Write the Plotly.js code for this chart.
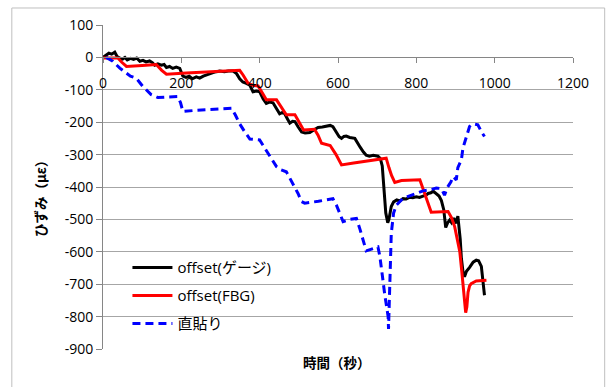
<!DOCTYPE html>
<html>
<head>
<meta charset="utf-8">
<script src="https://cdn.plot.ly/plotly-3.0.1.min.js"></script>
<style>
  html, body { margin: 0; padding: 0; background: #fff; }
  #chart { width: 607px; height: 387px; }
</style>
</head>
<body>
<div id="chart"></div>
<script>
// Strain (με) against time (s) for three measurements.
const gaugeTime = [0, 8, 15, 22, 30, 36, 42, 50, 56, 62, 70, 78, 86, 94, 102, 110, 119, 126, 132, 140, 149, 156, 162, 170, 178, 187, 196, 204, 212, 220, 228, 238, 247, 256, 264, 272, 281, 290, 298, 310, 320, 332, 341, 349, 357, 366, 375, 383, 392, 400, 409, 417, 425, 434, 443, 451, 458, 464, 471, 477, 484, 490, 498, 507, 516, 528, 538, 549, 560, 570, 580, 587, 596, 603, 609, 615, 621, 630, 643, 650, 657, 665, 672, 680, 690, 702, 708, 713, 718, 722, 727, 730, 736, 742, 750, 758, 766, 774, 782, 791, 800, 808, 817, 824, 830, 837, 843, 851, 858, 864, 870, 875, 880, 885, 890, 896, 902, 906, 909, 912, 915, 919, 923, 928, 936, 945, 953, 959, 966, 970, 974];
const gaugeStrain = [0, 8, 13, 10, 16, 3, -2, -5, 0, -8, -3, -6, -2, -12, -9, -14, -11, -16, -24, -20, -24, -22, -31, -28, -34, -30, -34, -58, -62, -58, -66, -60, -64, -58, -54, -50, -47, -44, -42, -44, -42, -42, -50, -66, -76, -80, -86, -106, -104, -106, -128, -142, -138, -140, -160, -174, -170, -174, -190, -203, -197, -198, -214, -230, -233, -232, -224, -216, -215, -213, -210, -214, -232, -245, -250, -244, -243, -247, -250, -262, -278, -292, -302, -305, -302, -305, -312, -335, -420, -480, -510, -500, -460, -446, -440, -443, -436, -437, -432, -433, -430, -432, -428, -426, -420, -418, -413, -422, -428, -442, -470, -525, -510, -502, -510, -496, -512, -490, -520, -560, -620, -660, -677, -660, -648, -632, -626, -628, -645, -690, -734];

const fbgTime = [0, 38, 48, 60, 100, 136, 150, 162, 213, 281, 349, 358, 370, 383, 396, 407, 417, 443, 455, 468, 490, 500, 512, 540, 549, 558, 580, 595, 609, 640, 664, 700, 723, 730, 737, 745, 762, 809, 822, 838, 881, 890, 898, 905, 911, 916, 920, 923, 926, 929, 932, 936, 940, 953, 979];
const fbgStrain = [-2, -2, -15, -28, -25, -22, -40, -52, -48, -43, -40, -55, -79, -86, -88, -110, -131, -131, -155, -177, -177, -200, -224, -222, -240, -265, -272, -300, -332, -326, -322, -316, -311, -340, -365, -386, -380, -378, -420, -478, -476, -495, -523, -560, -600, -660, -720, -770, -788, -770, -725, -705, -698, -690, -688];

const directTime = [8, 25, 43, 60, 70, 85, 102, 123, 140, 165, 191, 198, 204, 240, 290, 328, 338, 349, 362, 375, 400, 409, 417, 430, 443, 455, 468, 478, 489, 498, 507, 515, 550, 587, 596, 605, 613, 630, 647, 656, 664, 672, 690, 702, 707, 711, 715, 719, 724, 728, 729, 731, 733, 736, 742, 749, 766, 783, 800, 817, 834, 851, 864, 872, 880, 888, 894, 902, 906, 915, 919, 928, 936, 945, 957, 966, 974];
const directStrain = [0, -12, -33, -48, -58, -64, -90, -115, -124, -122, -121, -140, -167, -163, -160, -157, -178, -205, -230, -252, -255, -272, -291, -315, -337, -347, -353, -375, -399, -420, -445, -450, -444, -436, -456, -485, -507, -500, -497, -530, -564, -597, -590, -585, -615, -646, -690, -729, -770, -800, -838, -760, -680, -543, -480, -456, -435, -428, -420, -412, -409, -403, -405, -425, -400, -385, -368, -378, -340, -316, -280, -244, -213, -205, -208, -229, -244];

const seriesNames = ['offset(ゲージ)', 'offset(FBG)', '直貼り'];

const xTickVals = [0, 200, 400, 600, 800, 1000, 1200];
const yTickVals = [100, 0, -100, -200, -300, -400, -500, -600, -700, -800, -900];
const yTickText = ['100', '0', '-100', '-200', '-300', '-400', '-500', '-600', '-700', '-800', '-900'];

const latin = 'Open Sans, Noto Sans CJK JP, sans-serif';
const cjk = 'Noto Sans CJK JP, sans-serif';
const gridGray = '#a6a6a6';
const axisGray = '#868686';

const traces = [
  { x: gaugeTime, y: gaugeStrain, name: seriesNames[0], legendgroup: 'g1',
    mode: 'lines', line: { color: '#000000', width: 3 } },
  { x: fbgTime, y: fbgStrain, name: seriesNames[1], legendgroup: 'g2',
    mode: 'lines', line: { color: '#ff0000', width: 3 } },
  { x: directTime, y: directStrain, name: seriesNames[2], legendgroup: 'g3',
    mode: 'lines', line: { color: '#0000ff', width: 3, dash: '8px,5px' } }
];

const layout = {
  width: 607, height: 387,
  margin: { l: 103, r: 34, t: 25, b: 38, pad: 0 },
  paper_bgcolor: '#ffffff', plot_bgcolor: '#ffffff',
  font: { family: latin, size: 14, color: '#000000' },
  showlegend: true,
  legend: {
    x: 0.052, y: 0.302, xanchor: 'left', yanchor: 'top',
    bgcolor: 'rgba(0,0,0,0)', borderwidth: 0,
    traceorder: 'grouped', tracegroupgap: 5.5,
    font: { family: latin, size: 15, color: '#000000' },
    itemwidth: 40
  },
  xaxis: {
    range: [0, 1200], tickvals: xTickVals,
    anchor: 'free', position: 0.9,
    showline: true, linecolor: axisGray, linewidth: 1,
    ticks: 'outside', ticklen: 5, tickcolor: axisGray, tickwidth: 1,
    ticklabelstandoff: 8,
    showgrid: false, zeroline: false,
    tickfont: { family: latin, size: 14, color: '#000000' }
  },
  yaxis: {
    range: [-900, 100], tickvals: yTickVals, ticktext: yTickText,
    showline: true, linecolor: axisGray, linewidth: 1,
    ticks: 'outside', ticklen: 6, tickcolor: axisGray, tickwidth: 1,
    showgrid: true, gridcolor: gridGray, gridwidth: 1, zeroline: false,
    tickfont: { family: latin, size: 14, color: '#000000' }
  },
  annotations: [
    { text: '<b>時間（秒）</b>', xref: 'paper', yref: 'paper',
      x: 0.497, y: -0.041, xanchor: 'center', yanchor: 'middle',
      showarrow: false, font: { family: cjk, size: 13.5, color: '#000000' } },
    { text: '<b>ひずみ（με）</b>', xref: 'paper', yref: 'paper',
      x: -0.134, y: 0.475, xanchor: 'center', yanchor: 'middle', textangle: -90,
      showarrow: false, font: { family: cjk, size: 13.5, color: '#000000' } }
  ],
  shapes: [
    { type: 'rect', xref: 'paper', yref: 'paper', layer: 'below',
      x0: -0.194, x1: 1.0674, y0: -0.2, y1: 1.0525,
      line: { color: '#bfbfbf', width: 1 }, fillcolor: 'rgba(0,0,0,0)' }
  ]
};

Plotly.newPlot('chart', traces, layout, { staticPlot: true, displayModeBar: false });
</script>
</body>
</html>
